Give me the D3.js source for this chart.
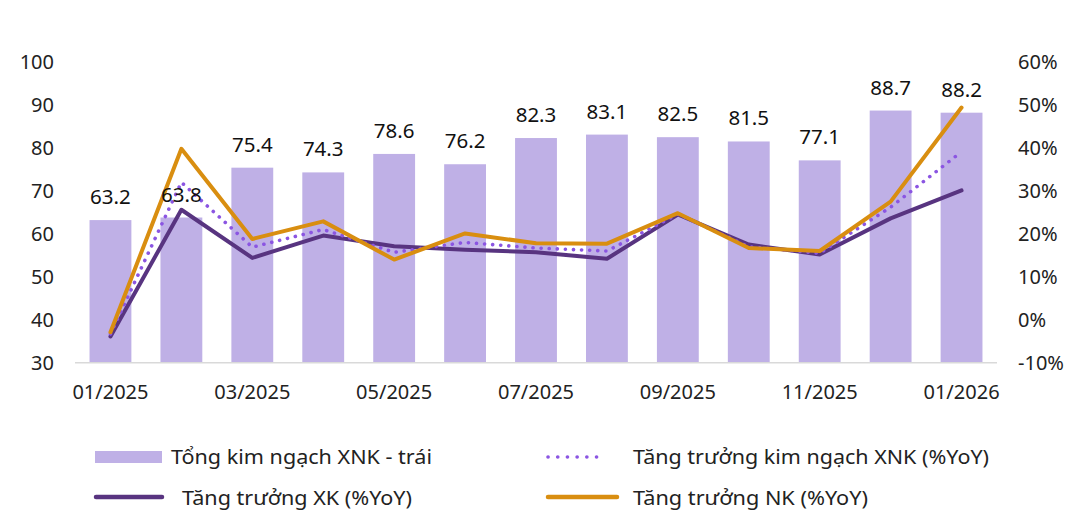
<!DOCTYPE html>
<html>
<head>
<meta charset="utf-8">
<title>XNK</title>
<style>
  body { margin: 0; background: #fff; }
  svg { display: block; font-family: 'Noto Sans', sans-serif; }
</style>
</head>
<body>
<div id="chart"></div>
<script src="https://d3js.org/d3.v7.min.js"></script>
<script>
// months + values
var months = ["01/2025","02/2025","03/2025","04/2025","05/2025","06/2025","07/2025",
              "08/2025","09/2025","10/2025","11/2025","12/2025","01/2026"];
var tongXNK = [63.2, 63.8, 75.4, 74.3, 78.6, 76.2, 82.3, 83.1, 82.5, 81.5, 77.1, 88.7, 88.2];
var growthXNK = [-3.3, 32.0, 16.9, 21.0, 15.7, 18.0, 16.7, 16.0, 24.6, 17.0, 15.5, 26.2, 39.1];
var growthXK  = [-3.9, 25.6, 14.4, 19.6, 17.1, 16.3, 15.7, 14.2, 24.5, 17.5, 15.2, 23.6, 30.1];
var growthNK  = [-2.9, 39.8, 18.8, 22.9, 14.0, 20.1, 17.8, 17.7, 24.8, 16.7, 16.0, 27.5, 49.4];
var leftTicks = [30, 40, 50, 60, 70, 80, 90, 100];
var rightTicks = [-10, 0, 10, 20, 30, 40, 50, 60];

var W = 1076, H = 510;
var plot = {left: 75, right: 997, top: 62, bottom: 362.7};

var svg = d3.select("#chart").append("svg").attr("width", W).attr("height", H);

var x = d3.scaleBand().domain(months).range([plot.left, plot.right]).paddingInner(0.41).paddingOuter(0.205);
var yL = d3.scaleLinear().domain([30, 100]).range([plot.bottom, plot.top]);
var yR = d3.scaleLinear().domain([-10, 60]).range([plot.bottom, plot.top]);

var cBar = "#bfb0e6", cXK = "#583480", cNK = "#d98e10", cXNK = "#8b55e2";

// bars
svg.selectAll("rect.bar").data(tongXNK).enter().append("rect")
  .attr("class", "bar")
  .attr("x", function(d, i){ return x(months[i]); })
  .attr("width", x.bandwidth())
  .attr("y", function(d){ return yL(d); })
  .attr("height", function(d){ return yL(30) - yL(d); })
  .attr("fill", cBar);

// baseline
svg.append("line").attr("x1", plot.left).attr("x2", plot.right)
  .attr("y1", plot.bottom).attr("y2", plot.bottom)
  .attr("stroke", "#d9d9d9").attr("stroke-width", 1.5);

// left axis
var axL = svg.append("g").attr("transform", "translate(54,0)")
  .call(d3.axisLeft(yL).tickValues(leftTicks).tickSize(0).tickPadding(0));
axL.select(".domain").remove();
axL.selectAll("text").attr("font-size", 20).attr("fill", "#222").attr("font-family", "'Noto Sans', sans-serif");

// right axis
var axR = svg.append("g").attr("transform", "translate(1018,0)")
  .call(d3.axisRight(yR).tickValues(rightTicks).tickSize(0).tickPadding(0)
  .tickFormat(function(d){ return d + "%"; }));
axR.select(".domain").remove();
axR.selectAll("text").attr("font-size", 20).attr("fill", "#222").attr("font-family", "'Noto Sans', sans-serif");

// x axis
var axX = svg.append("g").attr("transform", "translate(0,384.8)")
  .call(d3.axisBottom(x).tickSize(0).tickPadding(0)
  .tickFormat(function(d, i){ return i % 2 === 0 ? d : ""; }));
axX.select(".domain").remove();
axX.selectAll("text").attr("font-size", 20).attr("fill", "#222").attr("font-family", "'Noto Sans', sans-serif");

function cx(i){ return x(months[i]) + x.bandwidth() / 2; }

var line = function(arr){
  return d3.line().x(function(d, i){ return cx(i); }).y(function(d){ return yR(d); })(arr);
};

svg.append("path").attr("d", line(growthXK)).attr("fill", "none")
  .attr("stroke", cXK).attr("stroke-width", 4).attr("stroke-linejoin", "round").attr("stroke-linecap", "round");
svg.append("path").attr("d", line(growthXNK)).attr("fill", "none")
  .attr("stroke", cXNK).attr("stroke-width", 3.6).attr("stroke-dasharray", "0.1 8")
  .attr("stroke-linecap", "round");
svg.append("path").attr("d", line(growthNK)).attr("fill", "none")
  .attr("stroke", cNK).attr("stroke-width", 4).attr("stroke-linejoin", "round").attr("stroke-linecap", "round");

// bar value labels
svg.selectAll("text.val").data(tongXNK).enter().append("text")
  .attr("class", "val")
  .attr("x", function(d, i){ return cx(i); })
  .attr("y", function(d){ return yL(d) - 16; })
  .attr("text-anchor", "middle")
  .attr("font-size", 20.5).attr("fill", "#111")
  .text(function(d){ return d.toFixed(1); });

// legend
var leg = svg.append("g").attr("font-size", 19).attr("fill", "#222");
leg.append("rect").attr("x", 95).attr("y", 451).attr("width", 67).attr("height", 12).attr("fill", cBar);
leg.append("text").attr("x", 171).attr("y", 464).attr("textLength", 261).attr("lengthAdjust", "spacingAndGlyphs")
  .text("Tổng kim ngạch XNK - trái");

leg.append("line").attr("x1", 548).attr("x2", 606).attr("y1", 457).attr("y2", 457)
  .attr("stroke", cXNK).attr("stroke-width", 3.6).attr("stroke-dasharray", "0.1 9.6").attr("stroke-linecap", "round");
leg.append("text").attr("x", 633).attr("y", 464).attr("textLength", 356).attr("lengthAdjust", "spacingAndGlyphs")
  .text("Tăng trưởng kim ngạch XNK (%YoY)");

leg.append("line").attr("x1", 96).attr("x2", 162).attr("y1", 497).attr("y2", 497)
  .attr("stroke", cXK).attr("stroke-width", 4.5).attr("stroke-linecap", "round");
leg.append("text").attr("x", 182).attr("y", 505).attr("textLength", 230).attr("lengthAdjust", "spacingAndGlyphs")
  .text("Tăng trưởng XK (%YoY)");

leg.append("line").attr("x1", 548).attr("x2", 617).attr("y1", 497).attr("y2", 497)
  .attr("stroke", cNK).attr("stroke-width", 4.5).attr("stroke-linecap", "round");
leg.append("text").attr("x", 633).attr("y", 505).attr("textLength", 235).attr("lengthAdjust", "spacingAndGlyphs")
  .text("Tăng trưởng NK (%YoY)");
</script>
</body>
</html>
